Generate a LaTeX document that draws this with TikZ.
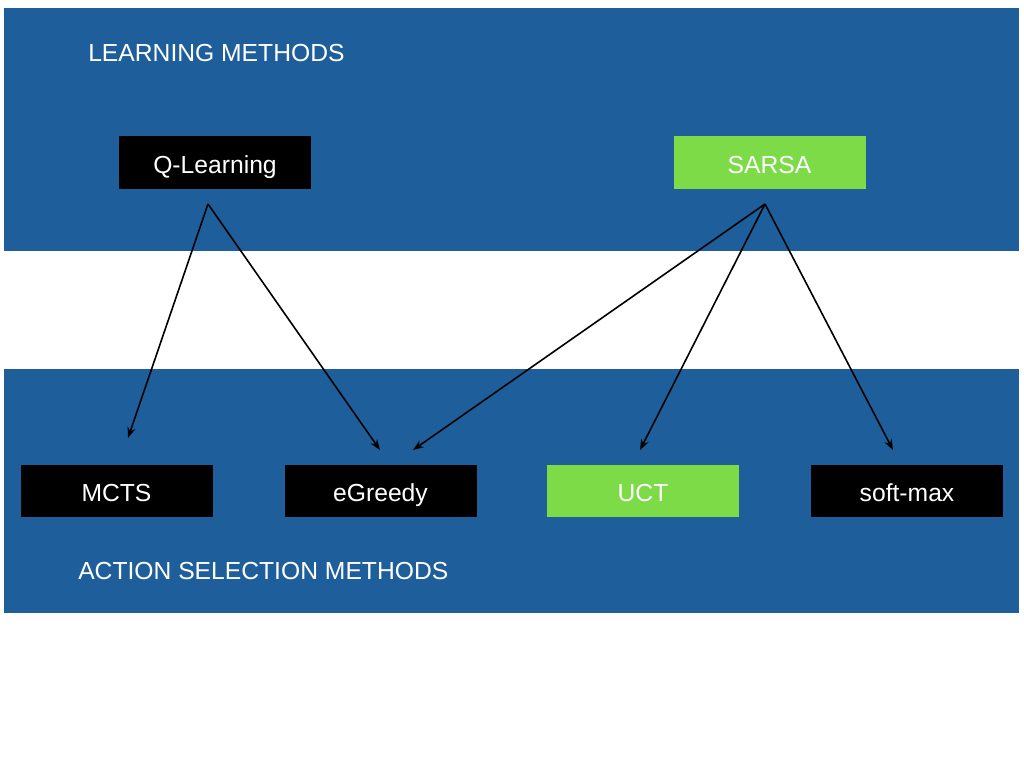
\documentclass[tikz,border=0pt]{standalone}
\usepackage{fontspec}
\setmainfont{Liberation Sans}
\usetikzlibrary{arrows.meta}
\definecolor{bandblue}{HTML}{1E5F9B}
\definecolor{boxgreen}{HTML}{7CDB46}
\begin{document}
\begin{tikzpicture}[x=0.75pt,y=-0.75pt,
  band/.style={fill=bandblue,draw=none},
  blackbox/.style={fill=black,text=white,minimum width=144pt,minimum height=39.5pt,inner sep=0pt,text height=16pt,text depth=0pt,font=\fontsize{18.5}{20}\selectfont},
  greenbox/.style={blackbox,fill=boxgreen},
  title/.style={text=white,anchor=west,inner sep=0pt,text height=13.3pt,text depth=0pt,font=\fontsize{18.5}{20}\selectfont},
  arr/.style={-{Stealth[length=8pt,width=6pt]},line width=1.2pt,black}]
\useasboundingbox (0,0) rectangle (1024,768);
\fill[white] (0,0) rectangle (1024,768);
\fill[band] (4,8) rectangle (1019,251);
\fill[band] (4,369) rectangle (1019,613);
\node[title] (t1) at (88,53) {LEARNING METHODS};
\node[title] (t2) at (78,571) {ACTION SELECTION METHODS};
\node[blackbox] (q) at (215,162.5) {Q-Learning};
\node[greenbox] (s) at (769.5,162.5) {SARSA};
\node[blackbox] (m) at (116.5,491) {MCTS};
\node[blackbox] (e) at (380.5,491) {eGreedy};
\node[greenbox] (u) at (643,491) {UCT};
\node[blackbox] (x) at (907,491) {soft-max};
\coordinate (qs) at (208,204);
\coordinate (ss) at (765,204);
\coordinate (m1) at (128,438);
\coordinate (e1) at (380,450);
\coordinate (e2) at (413,450);
\coordinate (u1) at (640,450);
\coordinate (x1) at (893,450);
\draw[arr] (qs) -- (m1);
\draw[arr] (qs) -- (e1);
\draw[arr] (ss) -- (e2);
\draw[arr] (ss) -- (u1);
\draw[arr] (ss) -- (x1);
\end{tikzpicture}
\end{document}
